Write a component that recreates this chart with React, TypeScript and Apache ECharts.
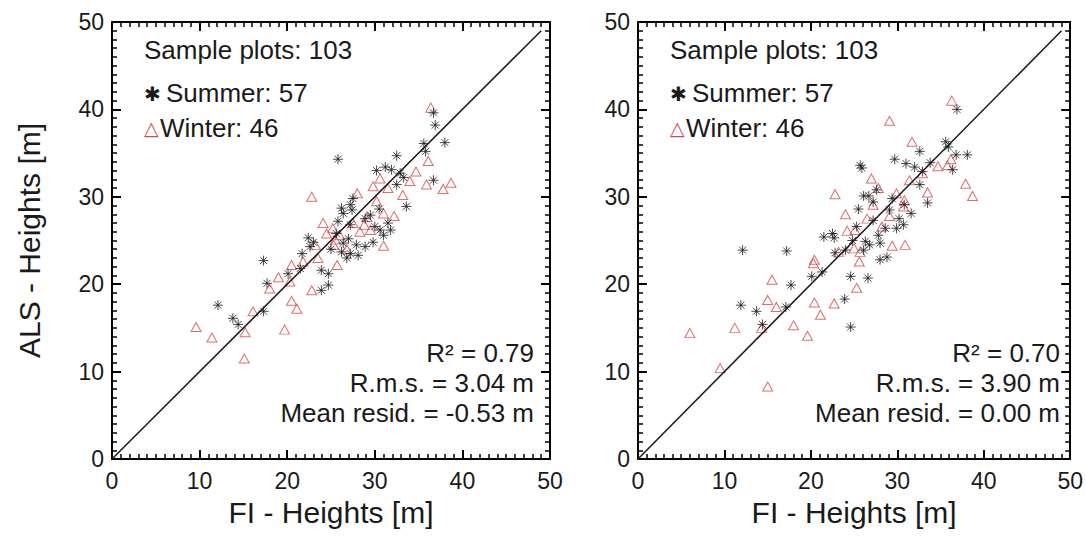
import React, { useEffect, useRef } from "react";
import * as echarts from "echarts";

const xTicks = [0, 10, 20, 30, 40, 50];
const diagLine = [[0, 0], [49, 49]];

const summerLeft = [
  [36.7, 39.6], [36.9, 38.2], [38.0, 36.2], [35.6, 36.1], [35.8, 35.2], [32.5, 34.7], [25.8, 34.3],
  [30.2, 33.0], [31.2, 33.4], [31.9, 33.1], [32.9, 32.7], [33.3, 32.2], [32.5, 31.4], [36.7, 31.9],
  [33.6, 28.9], [27.5, 29.8], [27.2, 29.1], [26.2, 28.7], [26.4, 28.1],
  [27.4, 28.5], [25.8, 27.2], [27.2, 26.8], [28.9, 27.5], [30.6, 26.2], [31.5, 27.0], [31.0, 25.6],
  [22.4, 25.3], [22.6, 24.3], [21.7, 23.5], [25.6, 25.8], [26.4, 24.7], [27.9, 24.5], [28.9, 24.3],
  [26.2, 23.7], [27.2, 23.5], [28.1, 23.3], [17.3, 22.7], [21.5, 21.8], [20.1, 21.2], [23.9, 21.6],
  [24.7, 21.2], [24.7, 19.9], [23.9, 19.3], [17.7, 20.1], [12.1, 17.6], [17.3, 16.9], [13.8, 16.1],
  [14.4, 15.4], [29.5, 27.9], [30.0, 26.6], [31.8, 26.2], [25.0, 24.0], [27.0, 25.2], [29.8, 24.8],
  [23.0, 24.8], [30.5, 28.6], [26.8, 23.0],
];

const winterLeft = [
  [36.4, 40.2], [36.1, 34.1], [34.7, 32.9], [30.6, 32.1], [29.8, 31.2], [31.5, 31.0], [35.9, 31.4],
  [37.8, 30.9], [38.7, 31.6], [22.8, 30.0], [31.0, 28.1], [29.1, 27.7],
  [24.1, 27.0], [25.2, 26.4], [28.3, 26.0], [29.5, 26.2], [25.5, 25.1], [25.3, 24.5], [23.2, 24.5],
  [31.0, 24.4], [20.5, 22.2], [25.7, 22.2], [20.3, 20.3], [18.0, 19.5], [22.8, 19.3], [20.5, 18.1],
  [21.1, 17.2], [16.1, 16.9], [9.6, 15.1], [11.4, 13.9], [15.2, 14.5], [19.7, 14.8], [15.1, 11.5],
  [26.0, 25.6], [27.5, 27.0], [28.8, 26.8], [24.5, 25.8], [26.8, 24.0], [32.2, 27.8], [33.2, 30.2],
  [30.2, 29.5], [21.8, 22.6], [23.5, 23.0], [28.0, 30.4], [34.0, 31.8], [19.0, 20.8],
];

const summerRight = [
  [36.9, 40.0], [35.6, 36.3], [35.9, 35.7], [32.6, 35.2], [36.8, 34.8], [38.1, 34.8], [25.7, 33.6],
  [29.7, 34.3], [31.0, 33.8], [32.0, 33.4], [32.9, 32.9], [36.4, 33.1], [25.9, 33.3], [32.6, 31.4],
  [27.6, 30.8], [26.1, 30.1], [26.7, 30.1], [27.2, 29.4], [33.5, 29.3], [30.8, 29.1], [25.5, 28.6],
  [29.1, 28.5], [31.6, 28.1],
  [27.2, 27.3], [28.6, 26.4], [29.9, 26.4], [30.7, 26.8], [25.3, 26.6], [21.5, 25.4], [22.5, 25.8],
  [22.7, 25.3], [26.3, 24.9], [26.8, 24.5], [28.0, 24.7], [26.1, 23.9], [22.8, 23.6], [24.0, 23.9],
  [28.8, 23.1], [28.0, 22.8], [12.1, 23.9], [17.2, 23.8], [21.3, 21.4], [20.1, 20.9], [24.6, 20.9],
  [26.6, 20.7], [17.7, 19.9], [23.9, 18.3], [11.9, 17.6], [13.7, 16.9], [17.1, 17.4], [14.4, 15.4],
  [24.6, 15.1], [30.2, 27.5], [27.8, 25.6], [24.8, 25.0], [29.4, 29.8], [33.8, 33.9],
];

const winterRight = [
  [36.3, 41.0], [29.1, 38.7], [31.7, 36.3], [36.2, 34.3], [34.7, 33.5], [35.8, 33.6], [32.9, 32.7],
  [27.0, 32.1], [37.9, 31.5], [31.4, 31.9], [38.7, 30.1], [22.8, 30.3], [29.9, 30.4], [30.8, 29.6],
  [27.2, 29.1], [29.1, 27.8], [30.7, 28.9],
  [28.2, 26.6], [24.2, 26.1], [25.1, 26.2], [25.0, 24.1], [23.2, 23.7], [25.7, 23.7], [29.4, 24.4],
  [30.9, 24.5], [20.4, 22.8], [20.3, 22.4], [25.6, 22.6], [15.5, 20.5], [25.3, 19.6], [15.0, 18.2],
  [16.0, 17.4], [20.4, 17.9], [22.7, 17.8], [21.1, 16.5], [11.2, 15.0], [14.3, 15.0], [18.0, 15.3],
  [19.6, 14.1], [6.0, 14.4], [9.5, 10.4], [15.0, 8.3], [26.5, 27.5], [33.5, 30.5], [27.8, 31.0],
  [24.0, 28.0],
];

const headerText = "Sample plots: 103";
const summerLabel = "Summer: 57";
const winterLabel = "Winter: 46";
const statsLeft = ["R² = 0.79", "R.m.s. = 3.04 m", "Mean resid. = -0.53 m"];
const statsRight = ["R² = 0.70", "R.m.s. = 3.90 m", "Mean resid. = 0.00 m"];
const xName = "FI - Heights [m]";
const yName = "ALS - Heights [m]";

const FONT = "'Liberation Sans', Arial, Helvetica, sans-serif";
const INK = "#1a1a1a";
const RED = "#d44a4a";
const ASTERISK =
  "path://M5,0L5,10M0,5L10,5M1.5,1.5L8.5,8.5M1.5,8.5L8.5,1.5";

const App: React.FC = () => {
  const ref = useRef<HTMLDivElement>(null);

  useEffect(() => {
    if (!ref.current) return;
    const chart = echarts.init(ref.current, undefined, { renderer: "svg" });

    const grids = [
      { left: 112, top: 22, width: 438, height: 437 },
      { left: 638, top: 22, width: 438, height: 437 },
    ];

    const baseAxis = (gi: number, pos: string, labels: boolean, name?: string, nameGap?: number) => {
      const ax: any = {
        type: "value",
        gridIndex: gi,
        position: pos,
        min: xTicks[0],
        max: xTicks[xTicks.length - 1],
        interval: 10,
        axisLine: { show: true, onZero: false, lineStyle: { color: "#000", width: 2 } },
        axisTick: { show: true, inside: true, length: 9, lineStyle: { color: "#000", width: 2 } },
        minorTick: { show: true, splitNumber: 10, length: 5, lineStyle: { color: "#000", width: 1.5 } },
        splitLine: { show: false },
        axisLabel: labels
          ? { show: true, fontFamily: FONT, fontSize: 23, color: INK, margin: pos === "bottom" ? 10 : 8 }
          : { show: false },
      };
      if (name) {
        ax.name = name;
        ax.nameLocation = "middle";
        ax.nameGap = nameGap;
        ax.nameTextStyle = { fontFamily: FONT, fontSize: 30, color: INK };
      }
      return ax;
    };

    const xAxes: any[] = [];
    const yAxes: any[] = [];
    [0, 1].forEach((gi) => {
      xAxes.push(baseAxis(gi, "bottom", true, xName, 38));
      xAxes.push(baseAxis(gi, "top", false));
      yAxes.push(baseAxis(gi, "left", true, gi === 0 ? yName : undefined, 68));
      yAxes.push(baseAxis(gi, "right", false));
    });

    const mkSeries = (gi: number, summer: number[][], winter: number[][]) => [
      {
        type: "line",
        xAxisIndex: gi * 2,
        yAxisIndex: gi * 2,
        data: diagLine,
        symbol: "none",
        lineStyle: { color: INK, width: 1.5 },
      },
      {
        type: "scatter",
        xAxisIndex: gi * 2,
        yAxisIndex: gi * 2,
        data: winter,
        symbol: "triangle",
        symbolSize: [10, 9],
        itemStyle: { color: "rgba(255,255,255,0)", borderColor: RED, borderWidth: 1 },
      },
      {
        type: "scatter",
        xAxisIndex: gi * 2,
        yAxisIndex: gi * 2,
        data: summer,
        symbol: ASTERISK,
        symbolSize: 10,
        itemStyle: { color: INK, borderColor: INK, borderWidth: 1 },
      },
    ];

    const t = (text: string, pos: any, size: number, color: string, family: string) => ({
      text,
      ...pos,
      padding: 0,
      itemGap: 0,
      textStyle: { fontFamily: family, fontSize: size, fontWeight: "normal", color, lineHeight: size },
    });

    const titles = (dx: number, stats: string[]) => [
      t(headerText, { left: 144 + dx, top: 37 }, 26, INK, FONT),
      t("✱", { left: 144 + dx, top: 84 }, 20, INK, "'DejaVu Sans'"),
      t(summerLabel, { left: 166 + dx, top: 80 }, 26, INK, FONT),
      t("△", { left: 144 + dx, top: 118 }, 19, RED, "'DejaVu Sans'"),
      t(winterLabel, { left: 160 + dx, top: 115 }, 26, INK, FONT),
      ...stats.map((s, i) => t(s, { right: 1086 - (534 + dx), top: 340 + i * 30 }, 26, INK, FONT)),
    ];

    chart.setOption({
      animation: false,
      title: [...titles(0, statsLeft), ...titles(526, statsRight)],
      grid: grids,
      xAxis: xAxes,
      yAxis: yAxes,
      series: [...mkSeries(0, summerLeft, winterLeft), ...mkSeries(1, summerRight, winterRight)],
    });

    return () => chart.dispose();
  }, []);

  return (
    <div
      ref={ref}
      style={{ position: "absolute", left: 0, top: 0, width: 1086, height: 539, background: "#fff" }}
    />
  );
};

export default App;
